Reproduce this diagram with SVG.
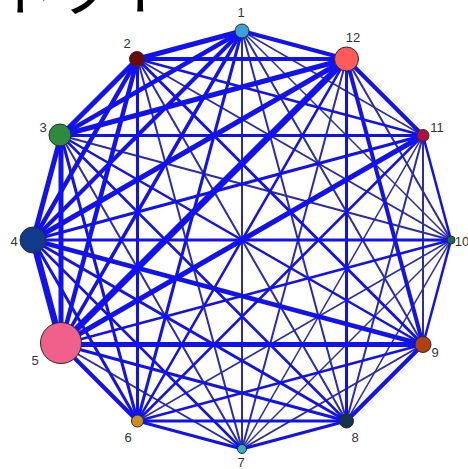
<svg xmlns="http://www.w3.org/2000/svg" width="468" height="469" viewBox="0 0 468 469">
<style>
.e{stroke:#1212ee;stroke-linecap:round;fill:none}
.t{stroke:#2b2bb0}
.w15{stroke-width:1.5}.w2{stroke-width:2}.w25{stroke-width:2.5}.w3{stroke-width:3}.w35{stroke-width:3.5}.w4{stroke-width:4}.w45{stroke-width:4.5}.w5{stroke-width:5}.w6{stroke-width:6.5}
.n{stroke:#2a2a2a;stroke-width:1}
.lb{font-family:"Liberation Sans",Arial,sans-serif;font-size:13px;fill:#333;text-anchor:middle}
.title{font-family:"Noto Sans CJK JP","Noto Sans",sans-serif;font-size:64px;fill:#000}
</style>
<rect width="468" height="469" fill="#fff"/>
<text class="title" x="-12" y="9">ネット</text>
<g id="edges">
<line class="e t w15" x1="242" y1="31" x2="451" y2="240"/>
<line class="e t w15" x1="242" y1="31" x2="423" y2="135.5"/>
<line class="e t w15" x1="137.5" y1="421" x2="451" y2="240"/>
<line class="e t w15" x1="242" y1="449" x2="451" y2="240"/>
<line class="e t w15" x1="242" y1="449" x2="423" y2="135.5"/>
<line class="e t w15" x1="346.5" y1="421" x2="451" y2="240"/>
<line class="e t w2" x1="242" y1="31" x2="242" y2="449"/>
<line class="e t w2" x1="242" y1="31" x2="346.5" y2="421"/>
<line class="e t w2" x1="242" y1="31" x2="423" y2="344.5"/>
<line class="e t w2" x1="137.5" y1="59" x2="242" y2="449"/>
<line class="e t w2" x1="137.5" y1="59" x2="346.5" y2="421"/>
<line class="e t w2" x1="137.5" y1="59" x2="451" y2="240"/>
<line class="e t w2" x1="61" y1="135.5" x2="242" y2="449"/>
<line class="e t w2" x1="61" y1="135.5" x2="451" y2="240"/>
<line class="e t w2" x1="61" y1="344.5" x2="242" y2="449"/>
<line class="e t w2" x1="242" y1="449" x2="423" y2="344.5"/>
<line class="e t w2" x1="242" y1="449" x2="346.5" y2="59"/>
<line class="e t w2" x1="346.5" y1="421" x2="423" y2="135.5"/>
<line class="e t w2" x1="423" y1="344.5" x2="423" y2="135.5"/>
<line class="e t w2" x1="451" y1="240" x2="346.5" y2="59"/>
<line class="e w25" x1="137.5" y1="59" x2="423" y2="135.5"/>
<line class="e w25" x1="61" y1="135.5" x2="346.5" y2="421"/>
<line class="e w25" x1="61" y1="135.5" x2="423" y2="344.5"/>
<line class="e w25" x1="33" y1="240" x2="242" y2="449"/>
<line class="e w25" x1="61" y1="344.5" x2="451" y2="240"/>
<line class="e w25" x1="137.5" y1="421" x2="423" y2="344.5"/>
<line class="e w25" x1="137.5" y1="421" x2="423" y2="135.5"/>
<line class="e w25" x1="137.5" y1="421" x2="346.5" y2="59"/>
<line class="e w25" x1="423" y1="344.5" x2="451" y2="240"/>
<line class="e w25" x1="451" y1="240" x2="423" y2="135.5"/>
<line class="e w3" x1="242" y1="31" x2="137.5" y2="421"/>
<line class="e w3" x1="137.5" y1="59" x2="137.5" y2="421"/>
<line class="e w3" x1="137.5" y1="59" x2="423" y2="344.5"/>
<line class="e w3" x1="61" y1="135.5" x2="137.5" y2="421"/>
<line class="e w3" x1="61" y1="135.5" x2="423" y2="135.5"/>
<line class="e w3" x1="33" y1="240" x2="137.5" y2="421"/>
<line class="e w3" x1="33" y1="240" x2="346.5" y2="421"/>
<line class="e w3" x1="33" y1="240" x2="451" y2="240"/>
<line class="e w3" x1="33" y1="240" x2="423" y2="135.5"/>
<line class="e w3" x1="61" y1="344.5" x2="346.5" y2="421"/>
<line class="e w3" x1="137.5" y1="421" x2="242" y2="449"/>
<line class="e w3" x1="137.5" y1="421" x2="346.5" y2="421"/>
<line class="e w3" x1="242" y1="449" x2="346.5" y2="421"/>
<line class="e w3" x1="346.5" y1="421" x2="346.5" y2="59"/>
<line class="e w35" x1="242" y1="31" x2="61" y2="344.5"/>
<line class="e w4" x1="242" y1="31" x2="33" y2="240"/>
<line class="e w4" x1="242" y1="31" x2="346.5" y2="59"/>
<line class="e w4" x1="137.5" y1="59" x2="346.5" y2="59"/>
<line class="e w4" x1="61" y1="344.5" x2="137.5" y2="421"/>
<line class="e w4" x1="346.5" y1="421" x2="423" y2="344.5"/>
<line class="e w4" x1="423" y1="344.5" x2="346.5" y2="59"/>
<line class="e w4" x1="423" y1="135.5" x2="346.5" y2="59"/>
<line class="e w45" x1="242" y1="31" x2="61" y2="135.5"/>
<line class="e w45" x1="137.5" y1="59" x2="33" y2="240"/>
<line class="e w45" x1="137.5" y1="59" x2="61" y2="344.5"/>
<line class="e w45" x1="33" y1="240" x2="423" y2="344.5"/>
<line class="e w5" x1="242" y1="31" x2="137.5" y2="59"/>
<line class="e w5" x1="137.5" y1="59" x2="61" y2="135.5"/>
<line class="e w5" x1="61" y1="135.5" x2="33" y2="240"/>
<line class="e w5" x1="61" y1="135.5" x2="61" y2="344.5"/>
<line class="e w5" x1="61" y1="135.5" x2="346.5" y2="59"/>
<line class="e w5" x1="33" y1="240" x2="346.5" y2="59"/>
<line class="e w5" x1="61" y1="344.5" x2="423" y2="344.5"/>
<line class="e w5" x1="61" y1="344.5" x2="423" y2="135.5"/>
<line class="e w6" x1="33" y1="240" x2="61" y2="344.5"/>
<line class="e w6" x1="61" y1="344.5" x2="346.5" y2="59"/>
</g>
<g id="node1"><circle class="n" cx="242" cy="31" r="7" fill="#3aa0e0"/><text class="lb" x="241" y="17">1</text></g>
<g id="node2"><circle class="n" cx="137" cy="59" r="7.5" fill="#6a0a0a"/><text class="lb" x="127" y="48">2</text></g>
<g id="node3"><circle class="n" cx="60" cy="135" r="11" fill="#2e8b3e"/><text class="lb" x="43" y="132">3</text></g>
<g id="node4"><circle class="n" cx="33" cy="240" r="13" fill="#123a8a"/><text class="lb" x="14" y="246">4</text></g>
<g id="node5"><circle class="n" cx="61" cy="343" r="20.5" fill="#f0608a"/><text class="lb" x="35" y="365">5</text></g>
<g id="node6"><circle class="n" cx="137.5" cy="421" r="6" fill="#c8901e"/><text class="lb" x="128" y="442">6</text></g>
<g id="node7"><circle class="n" cx="242" cy="449" r="4.5" fill="#30b0c0"/><text class="lb" x="241" y="467">7</text></g>
<g id="node8"><circle class="n" cx="346.5" cy="421" r="7" fill="#15334a"/><text class="lb" x="355" y="442">8</text></g>
<g id="node9"><circle class="n" cx="423" cy="344.5" r="8" fill="#b04010"/><text class="lb" x="435" y="357">9</text></g>
<g id="node10"><circle class="n" cx="451" cy="240" r="4" fill="#1a6a5a"/><text class="lb" x="462" y="246">10</text></g>
<g id="node11"><circle class="n" cx="423" cy="135.5" r="6" fill="#b01040"/><text class="lb" x="437" y="132">11</text></g>
<g id="node12"><circle class="n" cx="346.5" cy="59" r="12" fill="#ff5a5a"/><text class="lb" x="353" y="42">12</text></g>
</svg>
